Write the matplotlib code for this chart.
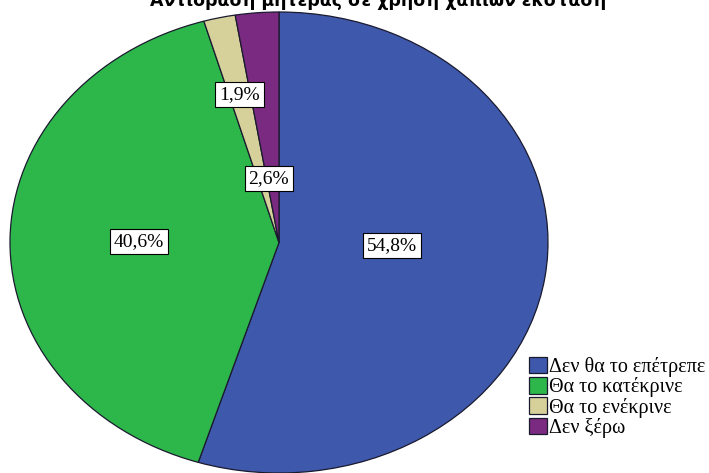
import numpy as np
import matplotlib.pyplot as plt

# Mother's reaction to ecstasy pill use (percent)
categories = ['Δεν θα το επέτρεπε', 'Θα το κατέκρινε', 'Θα το ενέκρινε', 'Δεν ξέρω']
values = [54.8, 40.6, 1.9, 2.6]
value_labels = ['54,8%', '40,6%', '1,9%', '2,6%']
title = 'Αντίδραση μητέρας σε χρήση χαπιών έκσταση'

colors = ['#3e58ac', '#2db74b', '#d6d19a', '#7a2a80']
label_radius = [0.42, 0.52, 0.66, 0.28]
label_shift = [7, 0, 0, 3]   # degrees, nudges off the slice middle

fig = plt.figure(figsize=(7.09, 4.73), dpi=100)
ax = fig.add_axes([10 / 709, 0.0, 538 / 709, 461 / 473])

wedges, _ = ax.pie(values, colors=colors, startangle=90, counterclock=False,
                   wedgeprops=dict(edgecolor='#1a1a2e', linewidth=0.9))
ax.set_aspect('auto')
ax.set_xlim(-1, 1)
ax.set_ylim(-1, 1)

for w, txt, r, sh in zip(wedges, value_labels, label_radius, label_shift):
    ang = np.deg2rad((w.theta1 + w.theta2) / 2 + sh)
    ax.text(r * np.cos(ang), r * np.sin(ang), txt, ha='center', va='center',
            family='Liberation Serif', fontsize=14,
            bbox=dict(boxstyle='square,pad=0.2', fc='white', ec='black', lw=0.8))

fig.legend(wedges, categories, loc='lower left', bbox_to_anchor=(529 / 709, 35 / 473),
           frameon=False, prop=dict(family='Liberation Serif', size=14.5),
           handlelength=0.9, handleheight=0.9, handletextpad=0.1,
           labelspacing=0.0, borderpad=0, borderaxespad=0)

fig.text(0.533, 1 - 6 / 473, title, ha='center', va='baseline',
         fontsize=12.5, fontweight='bold', family='DejaVu Sans')

fig.savefig('out.png', dpi=100)
